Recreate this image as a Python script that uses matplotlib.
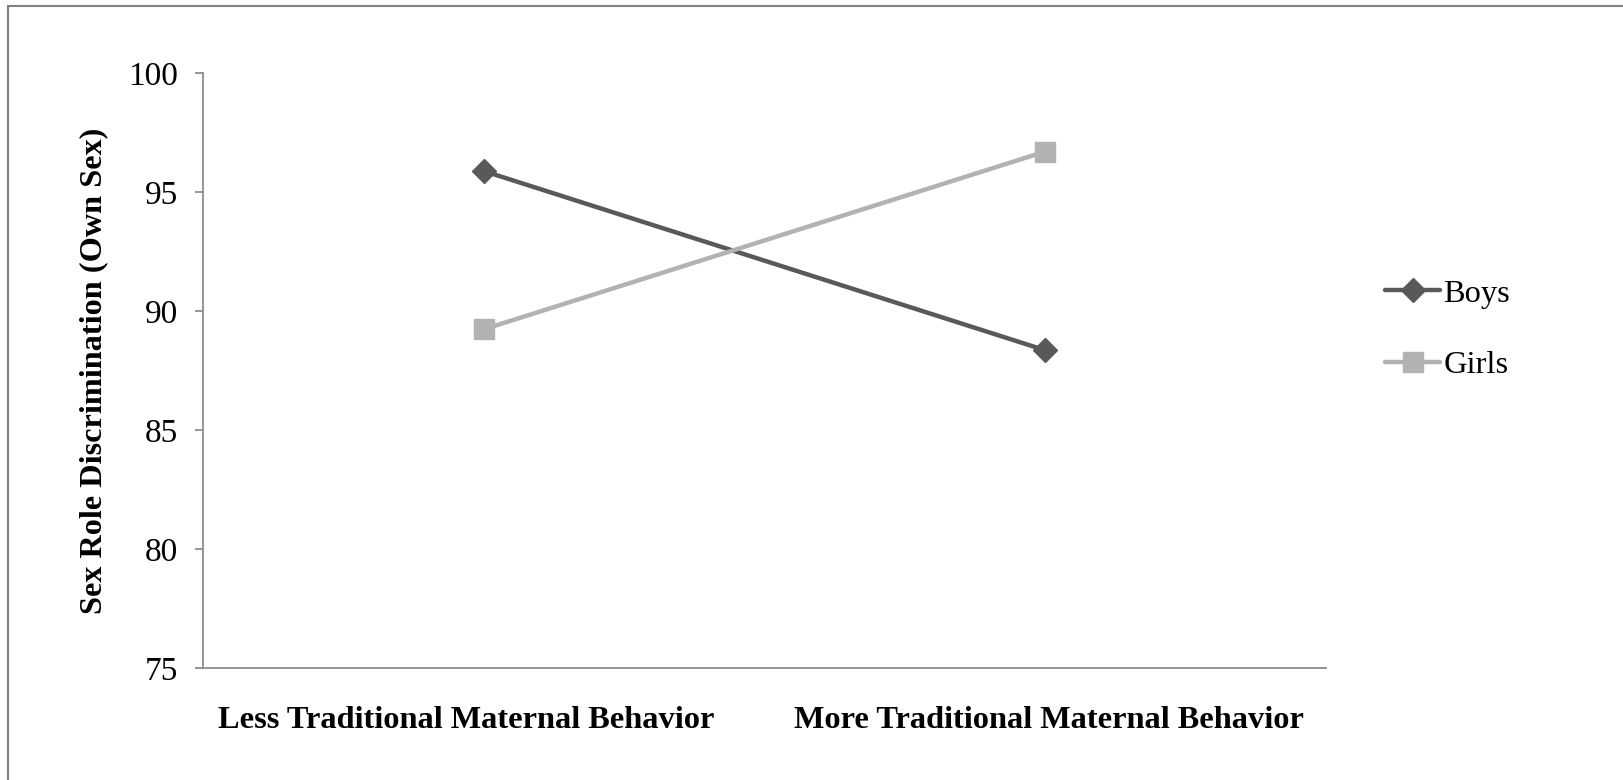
import matplotlib.pyplot as plt
import matplotlib.transforms as mtransforms
from matplotlib.patches import Rectangle

# datos
categorias = ["Less Traditional Maternal Behavior", "More Traditional Maternal Behavior"]
boys = [95.88, 88.35]
girls = [89.23, 96.70]
yticks = [75, 80, 85, 90, 95, 100]

plt.rcParams['font.family'] = ['Liberation Serif', 'DejaVu Serif']

W, H = 1623, 780
fig = plt.figure(figsize=(W / 100, H / 100), dpi=100)
ax = fig.add_axes([203 / W, 1 - 668 / H, (1326 - 203) / W, (668 - 73) / H])

x = [0, 1]
ax.plot(x, boys, color="#595959", lw=3.2, marker="D", ms=12, label="Boys", solid_capstyle="round")
ax.plot(x, girls, color="#b2b2b2", lw=3.2, marker="s", ms=14, label="Girls", solid_capstyle="round")

ax.set_xlim(-0.5, 1.5)
ax.set_ylim(75, 100)
ax.set_yticks(yticks)
ax.set_xticks(x)
ax.set_xticklabels(categorias, fontweight="bold", fontsize=23.3)
ax.tick_params(axis="x", length=0, pad=27)
ax.tick_params(axis="y", length=6, color="#8c8c8c", labelsize=24, pad=12, width=1.3)

# desplazar un poco las etiquetas del eje x (como en el original)
for lab, dx in zip(ax.get_xticklabels(), [-18, 4]):
    lab.set_transform(lab.get_transform() + mtransforms.ScaledTranslation(dx / 100, 0, fig.dpi_scale_trans))

for s in ["top", "right"]:
    ax.spines[s].set_visible(False)
for s in ["left", "bottom"]:
    ax.spines[s].set_color("#8c8c8c")
    ax.spines[s].set_linewidth(1.3)

ax.set_ylabel("Sex Role Discrimination (Own Sex)", fontweight="bold", fontsize=23.2, labelpad=14)

ax.legend(loc="center left", bbox_to_anchor=(1385 / W, 1 - 329.5 / H), bbox_transform=fig.transFigure,
          frameon=False, fontsize=23.4, handlelength=1.7, handletextpad=0.1, labelspacing=1.27,
          borderpad=0, borderaxespad=0)

# marco de la imagen
fig.add_artist(Rectangle((7.5 / W, -0.1), 2, 1 - 6.5 / H + 0.1, transform=fig.transFigure,
                         fill=False, edgecolor="#808080", lw=1.5))

fig.savefig("out.png", dpi=100)
